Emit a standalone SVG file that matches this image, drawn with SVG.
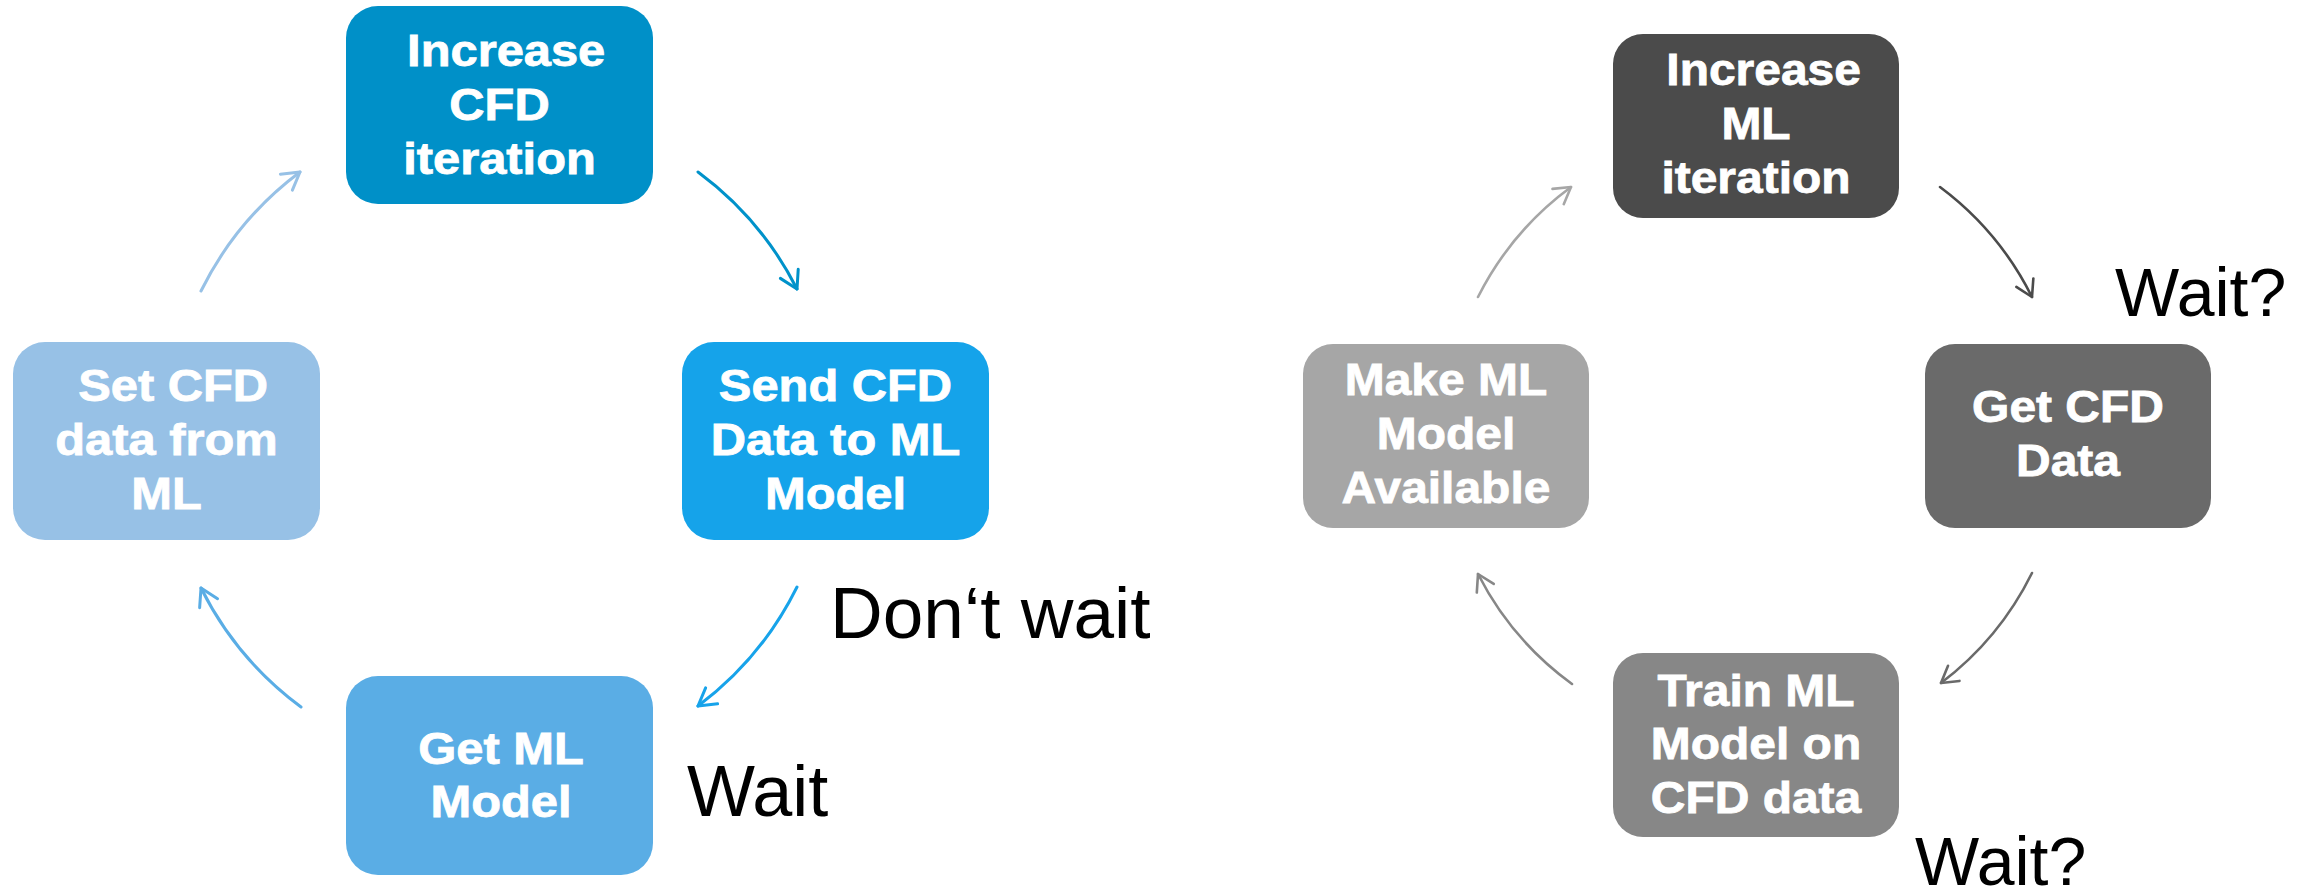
<svg xmlns="http://www.w3.org/2000/svg" width="2315" height="893" viewBox="0 0 2315 893">
  <style>
    .box-label { font-family: "Liberation Sans", Arial, sans-serif; font-weight: bold; font-size: 44px; fill: #ffffff; stroke: #ffffff; stroke-width: 0.8; text-anchor: middle; }
    .note { font-family: "Liberation Sans", Arial, sans-serif; font-weight: normal; fill: #000000; }
    .arc { fill: none; stroke-linecap: round; }
    .arc-cfd { stroke-width: 3; }
    .arc-ml { stroke-width: 2.6; }
    .head { fill: none; stroke-linecap: round; stroke-linejoin: round; }
  </style>
  <defs>
    <marker id="ah-c1" markerUnits="userSpaceOnUse" viewBox="-25 -15 30 30" markerWidth="30" markerHeight="30" refX="0" refY="0" orient="auto">
      <path class="head" d="M-17,-10 L0,0 L-17,10" stroke="#0092CA" stroke-width="3"/>
    </marker>
    <marker id="ah-c2" markerUnits="userSpaceOnUse" viewBox="-25 -15 30 30" markerWidth="30" markerHeight="30" refX="0" refY="0" orient="auto">
      <path class="head" d="M-17,-10 L0,0 L-17,10" stroke="#17A3EA" stroke-width="3"/>
    </marker>
    <marker id="ah-c3" markerUnits="userSpaceOnUse" viewBox="-25 -15 30 30" markerWidth="30" markerHeight="30" refX="0" refY="0" orient="auto">
      <path class="head" d="M-17,-10 L0,0 L-17,10" stroke="#5AADE5" stroke-width="3"/>
    </marker>
    <marker id="ah-c4" markerUnits="userSpaceOnUse" viewBox="-25 -15 30 30" markerWidth="30" markerHeight="30" refX="0" refY="0" orient="auto">
      <path class="head" d="M-17,-10 L0,0 L-17,10" stroke="#97C1E6" stroke-width="3"/>
    </marker>
    <marker id="ah-m1" markerUnits="userSpaceOnUse" viewBox="-25 -15 30 30" markerWidth="30" markerHeight="30" refX="0" refY="0" orient="auto">
      <path class="head" d="M-16,-9.5 L0,0 L-16,9.5" stroke="#4B4B4B" stroke-width="2.6"/>
    </marker>
    <marker id="ah-m2" markerUnits="userSpaceOnUse" viewBox="-25 -15 30 30" markerWidth="30" markerHeight="30" refX="0" refY="0" orient="auto">
      <path class="head" d="M-16,-9.5 L0,0 L-16,9.5" stroke="#6A6A6A" stroke-width="2.6"/>
    </marker>
    <marker id="ah-m3" markerUnits="userSpaceOnUse" viewBox="-25 -15 30 30" markerWidth="30" markerHeight="30" refX="0" refY="0" orient="auto">
      <path class="head" d="M-16,-9.5 L0,0 L-16,9.5" stroke="#878787" stroke-width="2.6"/>
    </marker>
    <marker id="ah-m4" markerUnits="userSpaceOnUse" viewBox="-25 -15 30 30" markerWidth="30" markerHeight="30" refX="0" refY="0" orient="auto">
      <path class="head" d="M-16,-9.5 L0,0 L-16,9.5" stroke="#A6A6A6" stroke-width="2.6"/>
    </marker>
  </defs>

  <rect width="2315" height="893" fill="#ffffff"/>

  <!-- CFD cycle -->
  <g id="cfd-increase">
    <rect x="346" y="6" width="307" height="198" rx="32" fill="#0090C8"/>
    <g class="box-label" transform="translate(499.5,0) scale(1.11,1)">
      <text x="6" y="66">Increase</text>
      <text x="0" y="120">CFD</text>
      <text x="0" y="174">iteration</text>
    </g>
  </g>
  <g id="cfd-send">
    <rect x="682" y="342" width="307" height="198" rx="32" fill="#15A3EA"/>
    <g class="box-label" transform="translate(835.5,0) scale(1.11,1)">
      <text x="0" y="401">Send CFD</text>
      <text x="0" y="455">Data to ML</text>
      <text x="0" y="509">Model</text>
    </g>
  </g>
  <g id="cfd-get-model">
    <rect x="346" y="676" width="307" height="199" rx="32" fill="#5AADE5"/>
    <g class="box-label" transform="translate(501,0) scale(1.11,1)">
      <text x="0" y="764">Get ML</text>
      <text x="0" y="817">Model</text>
    </g>
  </g>
  <g id="cfd-set">
    <rect x="13" y="342" width="307" height="198" rx="32" fill="#97C1E6"/>
    <g class="box-label" transform="translate(166.5,0) scale(1.11,1)">
      <text x="6" y="401">Set CFD</text>
      <text x="0" y="455">data from</text>
      <text x="0" y="509">ML</text>
    </g>
  </g>

  <!-- ML cycle -->
  <g id="ml-increase">
    <rect x="1613" y="34" width="286" height="184" rx="30" fill="#4B4B4B"/>
    <g class="box-label" transform="translate(1756,0) scale(1.09,1)">
      <text x="7" y="85">Increase</text>
      <text x="0" y="139">ML</text>
      <text x="0" y="193">iteration</text>
    </g>
  </g>
  <g id="ml-get-data">
    <rect x="1925" y="344" width="286" height="184" rx="30" fill="#6A6A6A"/>
    <g class="box-label" transform="translate(2068,0) scale(1.09,1)">
      <text x="0" y="422">Get CFD</text>
      <text x="0" y="476">Data</text>
    </g>
  </g>
  <g id="ml-train">
    <rect x="1613" y="653" width="286" height="184" rx="30" fill="#878787"/>
    <g class="box-label" transform="translate(1756,0) scale(1.09,1)">
      <text x="0" y="706">Train ML</text>
      <text x="0" y="759">Model on</text>
      <text x="0" y="813">CFD data</text>
    </g>
  </g>
  <g id="ml-publish">
    <rect x="1303" y="344" width="286" height="184" rx="30" fill="#A6A6A6"/>
    <g class="box-label" transform="translate(1446,0) scale(1.09,1)">
      <text x="0" y="395">Make ML</text>
      <text x="0" y="449">Model</text>
      <text x="0" y="503">Available</text>
    </g>
  </g>

  <!-- connectors: clockwise arcs -->
  <g id="connectors">
    <path class="arc arc-cfd" d="M698,172 A333,333 0 0 1 797,289" stroke="#0092CA" marker-end="url(#ah-c1)"/>
    <path class="arc arc-cfd" d="M797,587 A333,333 0 0 1 698,706" stroke="#17A3EA" marker-end="url(#ah-c2)"/>
    <path class="arc arc-cfd" d="M301,707 A333,333 0 0 1 201,588" stroke="#5AADE5" marker-end="url(#ah-c3)"/>
    <path class="arc arc-cfd" d="M201,291 A333,333 0 0 1 300,172" stroke="#97C1E6" marker-end="url(#ah-c4)"/>

    <path class="arc arc-ml" d="M1940,187 A310,310 0 0 1 2032,297" stroke="#4B4B4B" marker-end="url(#ah-m1)"/>
    <path class="arc arc-ml" d="M2032,573 A310,310 0 0 1 1941,683" stroke="#6A6A6A" marker-end="url(#ah-m2)"/>
    <path class="arc arc-ml" d="M1572,684 A310,310 0 0 1 1478,574" stroke="#878787" marker-end="url(#ah-m3)"/>
    <path class="arc arc-ml" d="M1478,297 A310,310 0 0 1 1571,187" stroke="#A6A6A6" marker-end="url(#ah-m4)"/>
  </g>

  <!-- annotations -->
  <text class="note" x="830" y="638" font-size="73">Don‘t wait</text>
  <text class="note" x="687" y="816" font-size="72">Wait</text>
  <text class="note" x="2115" y="316" font-size="68">Wait?</text>
  <text class="note" x="1915" y="885" font-size="68">Wait?</text>
</svg>
